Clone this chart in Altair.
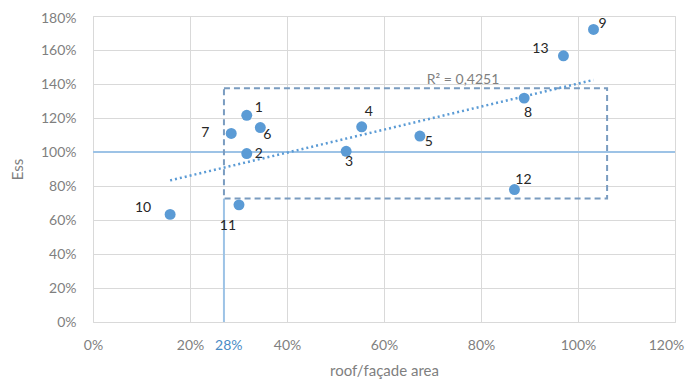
import altair as alt
import pandas as pd

# data
ids = ["1", "2", "3", "4", "5", "6", "7", "8", "9", "10", "11", "12", "13"]
roof_facade = [0.317, 0.317, 0.522, 0.554, 0.674, 0.345, 0.285, 0.889, 1.032, 0.159, 0.301, 0.869, 0.970]
ess = [1.216, 0.991, 1.004, 1.148, 1.094, 1.144, 1.109, 1.317, 1.721, 0.633, 0.689, 0.779, 1.566]

trend_x = [0.159, 1.032]
trend_y = [0.833, 1.424]
r2_text = "R² = 0,4251"
r2_pos = (0.763, 1.422)

box = dict(x=0.27, x2=1.06, y=0.726, y2=1.375)
ref_x = 0.27
ref_y = 1.0
ref_label = "28%"
ref_label_x = 0.28

x_ticks = [0, 0.2, 0.4, 0.6, 0.8, 1.0, 1.2]
y_ticks = [0, 0.2, 0.4, 0.6, 0.8, 1.0, 1.2, 1.4, 1.6, 1.8]

# label offsets (pixels) per point id
offsets = {
    "1": (12, -7), "2": (12, 0), "3": (3, 11), "4": (7, -15), "5": (9, 6),
    "6": (7, 7), "7": (-26, 0), "8": (4, 15), "9": (9, -5), "10": (-27, -6),
    "11": (-11, 21), "12": (9, -10), "13": (-23, -7),
}

FONT = "Lato"
GRAY = "#7f7f7f"
BLUE = "#5b9bd5"

df = pd.DataFrame({"id": ids, "x": roof_facade, "y": ess})

xs = alt.Scale(domain=[0, 1.2], nice=False, zero=False)
ys = alt.Scale(domain=[0, 1.8], nice=False, zero=False)

xax = alt.Axis(values=x_ticks, format=".0%", grid=True, gridColor="#d9d9d9", gridWidth=1,
               domain=False, ticks=False, labelPadding=16, labelColor=GRAY, labelFontSize=14,
               labelFont=FONT, labelOverlap=False, labelFlush=False, tickCount=7,
               labelOffset={"condition": {"test": "datum.value >= 1.19", "value": -9}, "value": 0},
               title="roof/façade area", titleFont=FONT, titleFontSize=15,
               titleColor=GRAY, titleFontWeight="normal", titlePadding=11)
yax = alt.Axis(values=y_ticks, format=".0%", grid=True, gridColor="#d9d9d9", gridWidth=1,
               domain=False, ticks=False, labelPadding=17, labelColor=GRAY, labelFontSize=14,
               labelFont=FONT, labelOverlap=False, labelFlush=False, tickCount=10,
               labelOffset={"condition": {"test": "datum.value >= 1.79", "value": 2}, "value": 0},
               title="Ess", titleFont=FONT, titleFontSize=15,
               titleColor=GRAY, titleFontWeight="normal", titlePadding=15)


def X(field):
    return alt.X(field, type="quantitative", scale=xs, axis=xax)


def Y(field):
    return alt.Y(field, type="quantitative", scale=ys, axis=yax)


base = alt.Chart(df)

# horizontal 100% reference line
hline = alt.Chart(pd.DataFrame({"y": [ref_y]})).mark_rule(color="#9dc3e6", strokeWidth=2).encode(
    y=Y("y"))
# vertical 28% line from 0 up to bottom of box
vline = alt.Chart(pd.DataFrame({"x": [ref_x], "y": [0.0], "y2": [box["y"]]})).mark_rule(
    color="#9dc3e6", strokeWidth=2).encode(x=X("x"), y=Y("y"), y2="y2:Q")

rect = alt.Chart(pd.DataFrame([box])).mark_rect(
    fill=None, fillOpacity=0, stroke="#7a9cc0", strokeWidth=2, strokeDash=[6, 4]).encode(
    x=X("x"), x2="x2:Q", y=Y("y"), y2="y2:Q")

trend = alt.Chart(pd.DataFrame({"x": trend_x, "y": trend_y})).mark_line(
    color=BLUE, strokeWidth=2.5, strokeDash=[2, 3]).encode(x=X("x"), y=Y("y"))

r2 = alt.Chart(pd.DataFrame({"x": [r2_pos[0]], "y": [r2_pos[1]], "t": [r2_text]})).mark_text(
    font=FONT, fontSize=14, color=GRAY, align="center", baseline="middle").encode(
    x=X("x"), y=Y("y"), text="t:N")

pts = base.mark_circle(size=120, color=BLUE, opacity=1).encode(x=X("x"), y=Y("y"))

labels = []
for pid, (dx, dy) in offsets.items():
    labels.append(base.transform_filter(alt.datum.id == pid).mark_text(
        font=FONT, fontSize=14, color="#262626", dx=dx, dy=dy,
        align="center", baseline="middle").encode(x=X("x"), y=Y("y"), text="id:N"))

ref_lab = alt.Chart(pd.DataFrame({"x": [ref_label_x], "y": [0.0], "t": [ref_label]})).mark_text(
    font=FONT, fontSize=14, color="#4a8cc6", dy=24, baseline="middle").encode(
    x=X("x"), y=Y("y"), text="t:N")

chart = alt.layer(hline, vline, rect, trend, r2, pts, *labels, ref_lab).properties(
    width=582, height=306,
    autosize=alt.AutoSizeParams(type="none"),
    padding={"left": 85, "top": 8, "right": 11, "bottom": 58},
).configure_view(stroke="#d9d9d9").configure(background="white")

chart.save("out.html", embed_options={"renderer": "svg", "actions": False})
